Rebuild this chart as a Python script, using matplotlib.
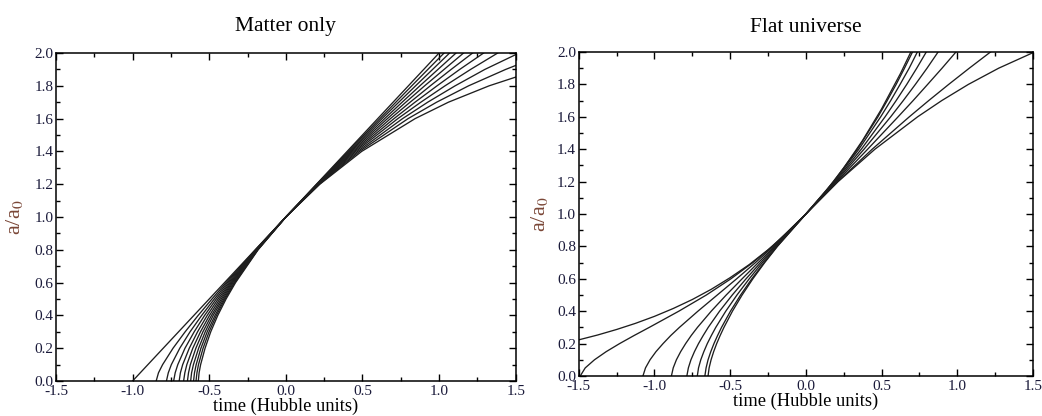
import numpy as np
import matplotlib
matplotlib.use("Agg")
import matplotlib.pyplot as plt
from matplotlib.ticker import MultipleLocator, FormatStrFormatter

plt.rcParams['font.family'] = ['Liberation Serif', 'DejaVu Serif']
plt.rcParams['mathtext.fontset'] = 'stix'

# --- Matter only: time (Hubble units) at fixed a/a0 levels, one row per Omega_m ---
matter_a = [0.0, 0.05, 0.1, 0.2, 0.3, 0.4, 0.5, 0.6, 0.8, 1.0, 1.2, 1.4, 1.6, 1.7, 1.8, 1.9, 2.0]
matter_omega = [0.0, 0.2, 0.4, 0.6, 0.8, 1.0, 1.2, 1.4, 1.6, 1.8, 2.0]
matter_t = [
    [-1.000, -0.950, -0.900, -0.800, -0.700, -0.600, -0.500, -0.400, -0.200, 0.0, 0.200, 0.400, 0.600, 0.700, 0.800, 0.900, 1.000],
    [-0.846, -0.831, -0.804, -0.736, -0.657, -0.572, -0.482, -0.390, -0.198, 0.0, 0.202, 0.407, 0.614, 0.718, 0.822, 0.927, 1.033],
    [-0.779, -0.767, -0.747, -0.692, -0.625, -0.549, -0.467, -0.381, -0.196, 0.0, 0.204, 0.414, 0.628, 0.737, 0.847, 0.958, 1.069],
    [-0.732, -0.722, -0.705, -0.658, -0.598, -0.530, -0.454, -0.372, -0.194, 0.0, 0.206, 0.421, 0.645, 0.759, 0.875, 0.993, 1.111],
    [-0.696, -0.688, -0.673, -0.630, -0.576, -0.513, -0.442, -0.364, -0.192, 0.0, 0.207, 0.429, 0.663, 0.783, 0.906, 1.033, 1.160],
    [-0.667, -0.659, -0.646, -0.607, -0.557, -0.498, -0.431, -0.357, -0.190, 0.0, 0.210, 0.438, 0.683, 0.811, 0.943, 1.079, 1.219],
    [-0.642, -0.635, -0.623, -0.587, -0.541, -0.485, -0.421, -0.351, -0.188, 0.0, 0.212, 0.447, 0.706, 0.843, 0.987, 1.135, 1.291],
    [-0.621, -0.615, -0.603, -0.569, -0.526, -0.474, -0.412, -0.345, -0.186, 0.0, 0.214, 0.457, 0.731, 0.881, 1.039, 1.206, 1.383],
    [-0.602, -0.596, -0.585, -0.554, -0.513, -0.462, -0.404, -0.338, -0.184, 0.0, 0.217, 0.469, 0.762, 0.926, 1.105, 1.299, np.nan],
    [-0.586, -0.580, -0.570, -0.540, -0.501, -0.453, -0.397, -0.333, -0.183, 0.0, 0.219, 0.481, 0.798, 0.984, 1.193, 1.435, np.nan],
    [-0.571, -0.566, -0.556, -0.527, -0.490, -0.444, -0.390, -0.328, -0.181, 0.0, 0.222, 0.495, 0.844, 1.061, 1.327, np.nan, np.nan],
]
# a/a0 where the slow curves leave through the right edge (t = 1.5)
matter_edge_a = {1.6: 1.990, 1.8: 1.924, 2.0: 1.853}

# --- Flat universe (Omega_m + Omega_Lambda = 1) ---
flat_a = [0.0, 0.05, 0.1, 0.15, 0.2, 0.25, 0.3, 0.4, 0.5, 0.6, 0.7, 0.8, 1.0, 1.2, 1.4, 1.6, 1.7, 1.8, 1.9, 2.0]
flat_omega = [0.05, 0.2, 0.4, 0.6, 0.8, 1.0, 1.1]
flat_t = [
    [-1.490, -1.457, -1.396, -1.319, -1.230, -1.134, -1.034, -0.839, -0.657, -0.495, -0.350, -0.221, 0.0, 0.183, 0.340, 0.476, 0.537, 0.596, 0.651, 0.704],
    [-1.076, -1.059, -1.029, -0.990, -0.943, -0.892, -0.835, -0.713, -0.585, -0.457, -0.333, -0.215, 0.0, 0.187, 0.350, 0.494, 0.560, 0.622, 0.682, 0.736],
    [-0.888, -0.876, -0.855, -0.827, -0.794, -0.757, -0.716, -0.625, -0.526, -0.421, -0.314, -0.207, 0.0, 0.192, 0.366, 0.523, 0.596, 0.666, 0.732, 0.795],
    [-0.786, -0.776, -0.759, -0.736, -0.709, -0.678, -0.645, -0.570, -0.486, -0.395, -0.299, -0.201, 0.0, 0.197, 0.384, 0.560, 0.643, 0.723, 0.800, 0.873],
    [-0.717, -0.709, -0.694, -0.674, -0.651, -0.624, -0.595, -0.529, -0.455, -0.374, -0.287, -0.195, 0.0, 0.203, 0.408, 0.609, 0.708, 0.804, 0.899, 0.991],
    [-0.667, -0.659, -0.646, -0.628, -0.607, -0.583, -0.557, -0.498, -0.431, -0.357, -0.276, -0.190, 0.0, 0.210, 0.438, 0.683, 0.811, 0.943, 1.079, 1.219],
    [-0.646, -0.639, -0.626, -0.609, -0.589, -0.566, -0.541, -0.485, -0.421, -0.350, -0.272, -0.188, 0.0, 0.213, 0.456, 0.738, 0.897, 1.073, 1.273, np.nan],
]
flat_edge_a = {1.1: 1.996}
# Omega_m = 0 (pure Lambda) never reaches a = 0
lambda_t = [-1.5, -1.375, -1.25, -1.125, -1.0, -0.875, -0.75, -0.625, -0.5, -0.375,
            -0.25, -0.125, 0.0, 0.125, 0.25, 0.375, 0.5, 0.625, 0.693]
lambda_a = [0.223, 0.253, 0.287, 0.325, 0.368, 0.417, 0.472, 0.535, 0.607, 0.687,
            0.779, 0.883, 1.0, 1.133, 1.284, 1.455, 1.649, 1.868, 2.0]

line_col = '#1e1e1e'
tick_col = '#1a1a3a'


def draw_curve(ax, t, a):
    ax.plot(t, a, color=line_col, lw=0.95, solid_joinstyle='round')


def style_axes(ax):
    ax.set_xlim(-1.5, 1.5)
    ax.set_ylim(0, 2.0)
    ax.xaxis.set_major_locator(MultipleLocator(0.5))
    ax.xaxis.set_minor_locator(MultipleLocator(0.25))
    ax.yaxis.set_major_locator(MultipleLocator(0.2))
    ax.yaxis.set_minor_locator(MultipleLocator(0.1))
    ax.xaxis.set_major_formatter(FormatStrFormatter('%.1f'))
    ax.yaxis.set_major_formatter(FormatStrFormatter('%.1f'))
    ax.tick_params(which='both', direction='in', top=True, right=True,
                   colors='black', labelcolor=tick_col, labelsize=11, width=1.0)
    ax.tick_params(which='major', length=5)
    ax.tick_params(which='minor', length=3)
    ax.tick_params(axis='x', which='major', pad=3)
    ax.tick_params(axis='y', which='major', pad=2)
    for s in ax.spines.values():
        s.set_linewidth(1.1)
    ax.set_xlabel('time (Hubble units)', fontsize=13.3)
    ax.set_ylabel(r'a/a$_0$', fontsize=16, color='#7a4636')


fig = plt.figure(figsize=(10.42, 4.16), dpi=100)
ax1 = fig.add_axes([0.0537, 0.0841, 0.4412, 0.7885])
ax2 = fig.add_axes([0.5554, 0.0962, 0.4360, 0.7788])

for om, row in zip(matter_omega, matter_t):
    t = [v for v in row if not np.isnan(v)]
    a = matter_a[:len(t)]
    if om in matter_edge_a:
        t = t + [1.5]
        a = a + [matter_edge_a[om]]
    draw_curve(ax1, t, a)

draw_curve(ax2, lambda_t, lambda_a)
for om, row in zip(flat_omega, flat_t):
    t = [v for v in row if not np.isnan(v)]
    a = flat_a[:len(t)]
    if om in flat_edge_a:
        t = t + [1.5]
        a = a + [flat_edge_a[om]]
    draw_curve(ax2, t, a)

style_axes(ax1)
style_axes(ax2)
ax1.xaxis.set_label_coords(0.5, -0.052)
ax2.xaxis.set_label_coords(0.5, -0.052)
ax1.yaxis.set_label_coords(-0.068, 0.5)
ax2.yaxis.set_label_coords(-0.064, 0.5)

fig.text(0.274, 0.937, 'Matter only', ha='center', va='center', fontsize=15.5)
fig.text(0.773, 0.933, 'Flat universe', ha='center', va='center', fontsize=15.5)

fig.savefig('out.png', dpi=100)
